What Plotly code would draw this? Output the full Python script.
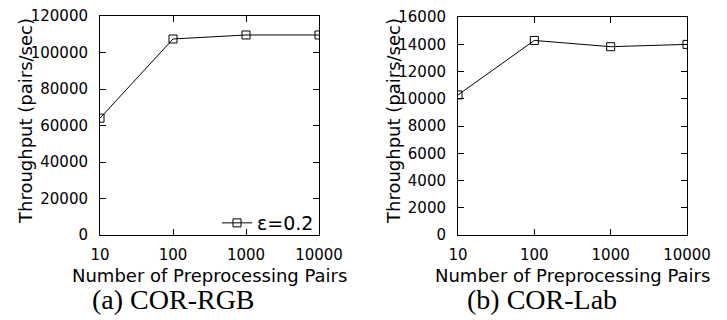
import plotly.graph_objects as go
from plotly.subplots import make_subplots

pairs = [10, 100, 1000, 10000]
x_ticks = ["10", "100", "1000", "10000"]
rgb_throughput = [64000, 107400, 109600, 109600]
lab_throughput = [10280, 14280, 13820, 13990]
series_name = "ε=0.2"
captions = ["(a) COR-RGB", "(b) COR-Lab"]
y_title = "Throughput (pairs/sec)"
x_title = "Number of Preprocessing Pairs"

W, H = 727, 320
def px(x): return x / W
def py(y): return 1 - y / H

fig = make_subplots(rows=1, cols=2)
tick_font = dict(family="DejaVu Sans", size=15, color="black")

fig.add_trace(go.Scatter(x=pairs, y=rgb_throughput, mode="lines+markers", name=series_name,
                         line=dict(color="black", width=1),
                         marker=dict(symbol="square-open", size=8, color="black", line=dict(width=1))),
              row=1, col=1)
fig.add_trace(go.Scatter(x=pairs, y=lab_throughput, mode="lines+markers", name=series_name,
                         showlegend=False,
                         line=dict(color="black", width=1),
                         marker=dict(symbol="square-open", size=8, color="black", line=dict(width=1))),
              row=1, col=2)

axcommon = dict(showline=True, linecolor="black", linewidth=1, mirror="ticks", ticks="inside",
                ticklen=6, tickcolor="black", showgrid=False, zeroline=False, tickfont=tick_font,
                automargin=False, ticklabeloverflow="allow")

fig.update_xaxes(type="log", range=[1, 4], tickvals=pairs, ticktext=x_ticks,
                 ticklabelstandoff=6, **axcommon)
fig.update_yaxes(tickformat="d", ticklabelstandoff=8, **axcommon)
fig.update_layout(
    xaxis=dict(domain=[px(92), px(311)]),
    xaxis2=dict(domain=[px(450), px(679)]),
    yaxis=dict(domain=[py(227), py(8)], range=[0, 120000], dtick=20000),
    yaxis2=dict(domain=[py(227), py(9)], range=[0, 16000], dtick=2000),
)

annots = []
for cx, cap in zip([165, 534], captions):
    annots.append(dict(text=cap, x=px(cx), y=py(291), xref="paper", yref="paper",
                       showarrow=False, xanchor="center", yanchor="middle",
                       font=dict(family="Liberation Serif", size=28, color="black")))
for cx in [201.5, 564.5]:
    annots.append(dict(text=x_title, x=px(cx), y=py(267), xref="paper", yref="paper",
                       showarrow=False, xanchor="center", yanchor="middle",
                       font=dict(family="DejaVu Sans", size=18, color="black")))
for cx in [17, 385]:
    annots.append(dict(text=y_title, x=px(cx), y=py(113), xref="paper", yref="paper",
                       showarrow=False, xanchor="center", yanchor="middle", textangle=-90,
                       font=dict(family="DejaVu Sans", size=18, color="black")))

fig.update_layout(
    width=W, height=H, margin=dict(l=0, r=0, t=0, b=0),
    paper_bgcolor="white", plot_bgcolor="white",
    annotations=annots,
    legend=dict(x=px(311), y=py(215), xanchor="right", yanchor="middle",
                bgcolor="rgba(0,0,0,0)", font=dict(family="DejaVu Sans", size=19, color="black"),
                itemwidth=30),
)

fig.write_html("out.html")
